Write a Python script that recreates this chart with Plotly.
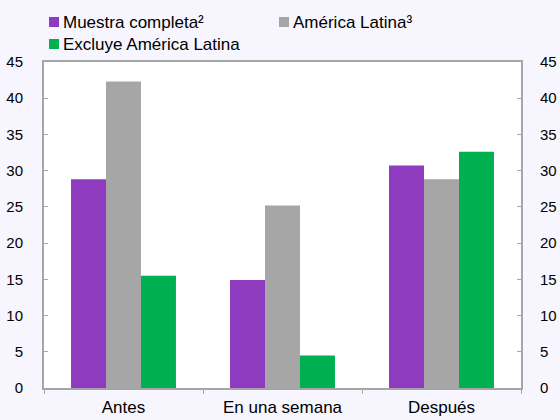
import plotly.graph_objects as go

categories = ["Antes", "En una semana", "Después"]
muestra = [28.8, 14.9, 30.7]
america = [42.3, 25.2, 28.8]
excluye = [15.5, 4.5, 32.6]
series_names = ["Muestra completa²", "América Latina³", "Excluye América Latina"]
colors = ["#8E3BBF", "#A6A6A6", "#00B050"]
y_ticks = [0, 5, 10, 15, 20, 25, 30, 35, 40, 45]

W, H = 560, 420
L, R, T, B = 44, 39, 62, 32
pw, ph = W - L - R, H - T - B

def px(x):
    return (x - L) / pw

def py(y):
    return (H - B - y) / ph

fig = go.Figure()
for name, vals, col in zip(series_names, [muestra, america, excluye], colors):
    fig.add_trace(go.Bar(x=categories, y=vals, name=name, marker_color=col,
                         marker_line_width=0, showlegend=False))

fig.add_trace(go.Scatter(x=categories, y=[None] * 3, yaxis="y2", showlegend=False,
                         hoverinfo="skip", mode="markers"))

axis_col = "#A6A6A6"
font = "Liberation Sans, Arial, sans-serif"

fig.update_layout(
    width=W, height=H,
    margin=dict(l=L, r=R, t=T, b=B, pad=0, autoexpand=False),
    paper_bgcolor="#F7F5FD",
    plot_bgcolor="#FFFFFF",
    barmode="group",
    bargap=0.34,
    bargroupgap=0,
    font=dict(family=font, size=15, color="#000000"),
    xaxis=dict(showgrid=False, showline=True, linecolor=axis_col, linewidth=2,
               ticks="outside", tickson="boundaries", ticklen=4, tickcolor=axis_col,
               tickfont=dict(size=17), ticklabelstandoff=3, mirror=True,
               automargin=False),
    yaxis=dict(range=[0, 45], tickvals=y_ticks, showgrid=False, zeroline=False,
               showline=True, linecolor=axis_col, linewidth=2,
               ticks="inside", ticklen=4, tickcolor=axis_col, automargin=False,
               ticklabelstandoff=16, tickfont=dict(size=15)),
    yaxis2=dict(range=[0, 45], tickvals=y_ticks, overlaying="y", side="right",
                showgrid=False, zeroline=False, showline=True, linecolor=axis_col,
                linewidth=2, ticks="inside", ticklen=4, tickcolor=axis_col,
                automargin=False, ticklabelstandoff=14, tickfont=dict(size=15)),
)

# Manual legend (squares + labels)
legend_items = [(49, 17, 0), (279, 17, 1), (49, 39, 2)]
for x0, y0, i in legend_items:
    fig.add_shape(type="rect", xref="paper", yref="paper",
                  x0=px(x0), x1=px(x0 + 10), y0=py(y0 + 10), y1=py(y0),
                  fillcolor=colors[i], line_width=0)
    fig.add_annotation(xref="paper", yref="paper", x=px(x0 + 12), y=py(y0 + 5),
                       text=series_names[i], showarrow=False, xanchor="left",
                       yanchor="middle", font=dict(size=17, family=font))

fig.write_html("out.html", config={"displayModeBar": False},
               post_script="document.body.style.margin='0';document.body.style.padding='0';document.body.style.overflow='hidden';")
